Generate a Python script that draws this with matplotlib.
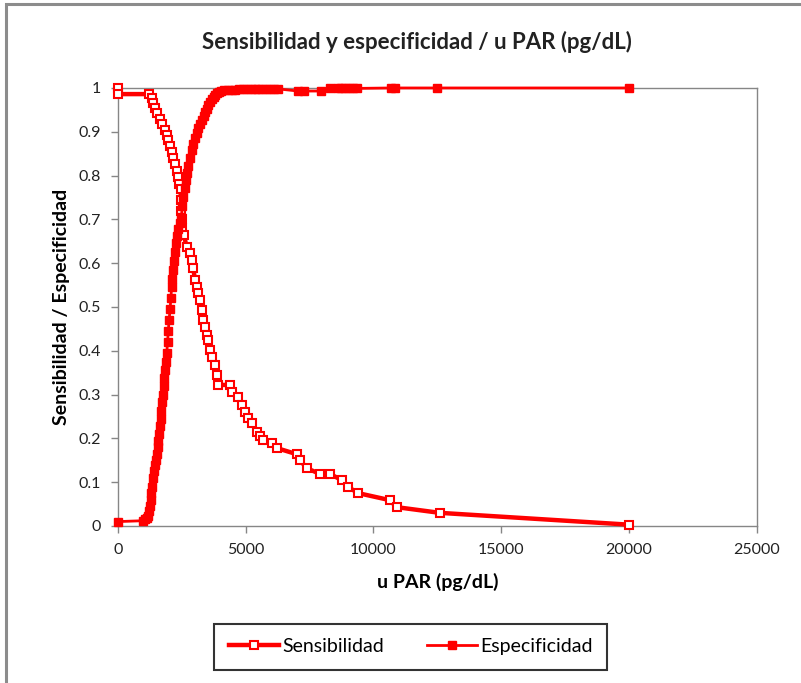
import matplotlib.pyplot as plt
from matplotlib.lines import Line2D
from matplotlib.patches import Rectangle

plt.rcParams['font.family'] = ['Lato', 'DejaVu Sans']

# u PAR (pg/dL) vs. sensibilidad
sens_upar = [0, 0, 1200, 1318, 1381, 1448, 1514, 1643, 1710, 1839, 1905, 1956,
             2035, 2101, 2164, 2230, 2297, 2359, 2398, 2453, 2470, 2480, 2488,
             2492, 2582, 2688, 2817, 2883, 2946, 3013, 3079, 3142, 3208, 3275,
             3337, 3404, 3470, 3533, 3599, 3666, 3795, 3862, 3924, 4382, 4448,
             4707, 4840, 4969, 5098, 5231, 5427, 5556, 5685, 6013, 6209, 6991,
             7121, 7383, 7903, 8294, 8752, 9010, 9402, 10642, 10904, 12598, 20000]
sens_val = [1.0, 0.986, 0.986, 0.977, 0.966, 0.954, 0.943, 0.929, 0.917, 0.904,
            0.893, 0.881, 0.868, 0.854, 0.840, 0.826, 0.811, 0.797, 0.781, 0.770,
            0.745, 0.720, 0.700, 0.680, 0.664, 0.637, 0.623, 0.607, 0.589, 0.562,
            0.546, 0.532, 0.516, 0.493, 0.470, 0.454, 0.436, 0.425, 0.402, 0.386,
            0.368, 0.345, 0.322, 0.322, 0.306, 0.295, 0.276, 0.260, 0.247, 0.235,
            0.215, 0.205, 0.197, 0.190, 0.178, 0.164, 0.151, 0.132, 0.119, 0.119,
            0.105, 0.089, 0.075, 0.059, 0.043, 0.030, 0.003]

# u PAR (pg/dL) vs. especificidad
esp_upar = [0, 980, 1050, 1120, 1180, 1220, 1250, 1280, 1310, 1340, 1370, 1400,
            1440, 1480, 1510, 1550, 1580, 1610, 1640, 1670, 1700, 1730, 1760,
            1790, 1820, 1850, 1880, 1910, 1940, 1970, 2000, 2040, 2070, 2100,
            2130, 2160, 2200, 2230, 2260, 2300, 2350, 2420, 2480, 2520, 2560,
            2610, 2650, 2690, 2750, 2810, 2880, 2950, 3020, 3080, 3150, 3210,
            3280, 3350, 3410, 3470, 3530, 3600, 3670, 3740, 3800, 3870, 3950,
            4050, 4150, 4300, 4450, 4600, 4750, 4900, 5050, 5200, 5350, 5500,
            5650, 5800, 5950, 6100, 6250, 7050, 7300, 7950, 8300, 8600, 8750,
            8900, 9050, 9200, 9350, 10700, 10850, 12500, 20000]
esp_val = [0.010, 0.012, 0.015, 0.018, 0.022, 0.035, 0.045, 0.060, 0.075, 0.090,
           0.110, 0.125, 0.140, 0.150, 0.165, 0.180, 0.195, 0.210, 0.228, 0.245,
           0.262, 0.282, 0.300, 0.320, 0.338, 0.355, 0.375, 0.395, 0.420, 0.445,
           0.470, 0.495, 0.520, 0.545, 0.565, 0.585, 0.605, 0.625, 0.645, 0.662,
           0.678, 0.692, 0.705, 0.730, 0.752, 0.772, 0.790, 0.806, 0.822, 0.840,
           0.858, 0.872, 0.886, 0.897, 0.908, 0.918, 0.928, 0.937, 0.945, 0.952,
           0.960, 0.968, 0.975, 0.980, 0.985, 0.988, 0.991, 0.993, 0.995, 0.995,
           0.996, 0.996, 0.997, 0.997, 0.997, 0.998, 0.998, 0.998, 0.998, 0.998,
           0.998, 0.998, 0.998, 0.993, 0.993, 0.993, 0.999, 0.999, 0.999, 0.999,
           0.999, 0.999, 0.999, 1.0, 1.0, 1.0, 1.0]

x_ticks = [0, 5000, 10000, 15000, 20000, 25000]
y_ticks = [0, 0.1, 0.2, 0.3, 0.4, 0.5, 0.6, 0.7, 0.8, 0.9, 1]
y_tick_labels = ['0', '0.1', '0.2', '0.3', '0.4', '0.5', '0.6', '0.7', '0.8', '0.9', '1']

RED = '#ff0000'
GRID_GRAY = '#868686'

fig = plt.figure(figsize=(8.01, 6.83), dpi=100)
ax = fig.add_axes([0.1473, 0.2299, 0.7972, 0.6413])

# outer chart frame (only top/left edges fall inside the canvas)
fig.patches.append(Rectangle((0.0075, -0.05), 1.2, 1.044, transform=fig.transFigure,
                             fill=False, edgecolor='#8c8c8c', linewidth=2.2))

sens_style = dict(color=RED, linewidth=3.2, marker='s', markersize=6.2,
                  markerfacecolor='white', markeredgecolor=RED, markeredgewidth=1.5)
esp_style = dict(color=RED, linewidth=2.0, marker='s', markersize=6.2,
                 markerfacecolor=RED, markeredgecolor=RED)

ax.plot(sens_upar, sens_val, zorder=3, clip_on=False, **sens_style)
ax.plot(esp_upar, esp_val, zorder=4, clip_on=False, **esp_style)

ax.set_xlim(0, 25000)
ax.set_ylim(0, 1)
ax.set_xticks(x_ticks)
ax.set_xticklabels([str(t) for t in x_ticks])
ax.set_yticks(y_ticks)
ax.set_yticklabels(y_tick_labels)

for side in ['left', 'bottom', 'top', 'right']:
    ax.spines[side].set_color(GRID_GRAY)
    ax.spines[side].set_linewidth(1.0)
ax.tick_params(axis='both', direction='out', length=5, width=1.0, color=GRID_GRAY,
               labelsize=11.5, labelcolor='#222222', pad=7)

ax.set_xlabel('u PAR (pg/dL)', fontsize=14, fontweight='bold', labelpad=12)
ax.set_ylabel('Sensibilidad / Especificidad', fontsize=14, fontweight='bold',
              labelpad=6)
fig.text(0.52, 0.938, 'Sensibilidad y especificidad / u PAR (pg/dL)',
         ha='center', va='center', fontsize=16, fontweight='bold', color='#222222')

handles = [Line2D([], [], label='Sensibilidad', **sens_style),
           Line2D([], [], label='Especificidad', **esp_style)]
leg = fig.legend(handles=handles, loc='center', bbox_to_anchor=(0.513, 0.053),
                 ncol=2, frameon=True, fancybox=False, fontsize=14,
                 handlelength=2.6, handletextpad=0.15, columnspacing=2.2,
                 borderpad=0.75, borderaxespad=0)
leg.get_frame().set_edgecolor('black')
leg.get_frame().set_linewidth(1.5)

fig.savefig('out.png', dpi=100)
